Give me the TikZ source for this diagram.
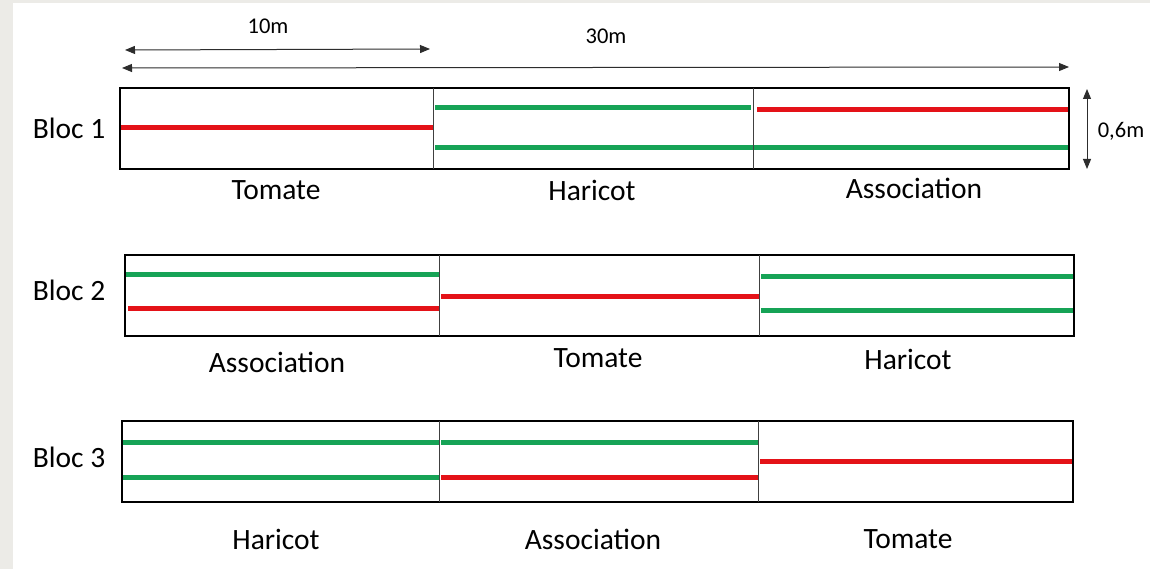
\documentclass[tikz,border=0pt]{standalone}
\usepackage{fontspec}
\setmainfont{Carlito}
\usetikzlibrary{arrows.meta}
\definecolor{bggray}{RGB}{236,235,231}
\definecolor{plred}{RGB}{228,18,24}
\definecolor{plgreen}{RGB}{22,163,86}
\definecolor{dimgray}{RGB}{45,45,45}
\begin{document}
\begin{tikzpicture}[x=1pt,y=-1pt,
  plotbox/.style={draw=black,line width=1.8pt},
  divider/.style={draw=black!75,line width=0.9pt},
  redrow/.style={draw=plred,line width=5pt},
  greenrow/.style={draw=plgreen,line width=5pt},
  croplabel/.style={font=\fontsize{29.5}{34}\selectfont,inner sep=0pt},
  blocname/.style={font=\fontsize{29.5}{34}\selectfont,inner sep=0pt},
  dimlabel/.style={font=\fontsize{22.5}{26}\selectfont,inner sep=0pt},
  dimarrow/.style={draw=dimgray,line width=1pt,{Triangle[length=10pt,width=8pt]}-{Triangle[length=10pt,width=8pt]}}]
\useasboundingbox (0,0) rectangle (1150,569);
\fill[bggray] (0,0) rectangle (1150,569);
\fill[white] (13,3) rectangle (1150,569);

% dimension arrows
\coordinate (d10a) at (125,50);
\coordinate (d10b) at (430,49);
\coordinate (d30a) at (122,68);
\coordinate (d30b) at (1069,67);
\coordinate (d06a) at (1087,89);
\coordinate (d06b) at (1087,169);
\draw[dimarrow] (d10a) -- (d10b);
\draw[dimarrow] (d30a) -- (d30b);
\draw[dimarrow] (d06a) -- (d06b);
\node[dimlabel] (l10) at (268,26) {10m};
\node[dimlabel] (l30) at (606,36) {30m};
\node[dimlabel] (l06) at (1121,131) {0,6m};

% Bloc 1
\node[blocname] (b1) at (69,128) {Bloc 1};
\draw[redrow] (120,128) -- (433,128);
\draw[greenrow] (435,108) -- (751,108);
\draw[greenrow] (435,148) -- (1069,148);
\draw[redrow] (757,110) -- (1069,110);
\draw[plotbox] (120,88) rectangle (1069,169);
\draw[divider] (433,88) -- (433,169);
\draw[divider] (753,88) -- (753,169);
\node[croplabel] (b1c1) at (276,190) {Tomate};
\node[croplabel] (b1c2) at (592,190) {Haricot};
\node[croplabel] (b1c3) at (914,188) {Association};

% Bloc 2
\node[blocname] (b2) at (69,290) {Bloc 2};
\draw[greenrow] (125,274) -- (439,274);
\draw[redrow] (128,308) -- (439,308);
\draw[redrow] (441,296) -- (759,296);
\draw[greenrow] (761,276) -- (1074,276);
\draw[greenrow] (761,310) -- (1074,310);
\draw[plotbox] (125,255) rectangle (1074,336);
\draw[divider] (439,255) -- (439,336);
\draw[divider] (759,255) -- (759,336);
\node[croplabel] (b2c1) at (277,362) {Association};
\node[croplabel] (b2c2) at (598,358) {Tomate};
\node[croplabel] (b2c3) at (908,359) {Haricot};

% Bloc 3
\node[blocname] (b3) at (69,457) {Bloc 3};
\draw[greenrow] (122,442) -- (439,442);
\draw[greenrow] (441,442) -- (758,442);
\draw[greenrow] (122,477) -- (439,477);
\draw[redrow] (441,477) -- (758,477);
\draw[redrow] (760,461) -- (1073,461);
\draw[plotbox] (122,421) rectangle (1073,502);
\draw[divider] (439,421) -- (439,502);
\draw[divider] (758,421) -- (758,502);
\node[croplabel] (b3c1) at (276,539) {Haricot};
\node[croplabel] (b3c2) at (593,539) {Association};
\node[croplabel] (b3c3) at (908,539) {Tomate};
\end{tikzpicture}
\end{document}
